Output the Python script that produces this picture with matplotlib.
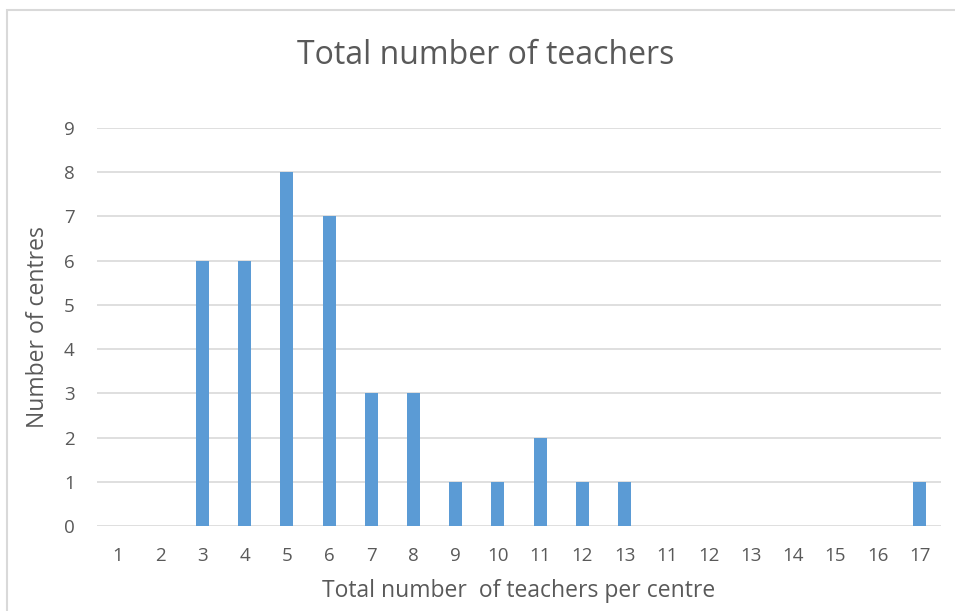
import matplotlib.pyplot as plt
from matplotlib.patches import Rectangle

categories = ['1', '2', '3', '4', '5', '6', '7', '8', '9', '10', '11', '12', '13',
              '11', '12', '13', '14', '15', '16', '17']
centres = [0, 0, 6, 6, 8, 7, 3, 3, 1, 1, 2, 1, 1, 0, 0, 0, 0, 0, 0, 1]

plt.rcParams['font.family'] = ['Open Sans', 'DejaVu Sans']
txt = '#595959'
grid = '#D9D9D9'

fig = plt.figure(figsize=(9.55, 6.11), dpi=100)
ax = fig.add_axes([97 / 955, 85 / 611, 844 / 955, 398 / 611])

pos = list(range(len(categories)))
ax.bar(pos, centres, width=0.31, color='#5B9BD5', zorder=3)

ax.set_xlim(-0.5, len(categories) - 0.5)
ax.set_ylim(0, 9)
ax.set_yticks(range(10))
ax.set_xticks(pos, categories)
ax.yaxis.grid(True, color=grid, lw=1.2, zorder=0)
ax.tick_params(axis='x', length=0, labelsize=13.5, colors=txt, pad=15)
ax.tick_params(axis='y', length=0, labelsize=13.5, colors=txt, pad=16)
for s in ax.spines.values():
    s.set_visible(False)

fig.text(486 / 955, 1 - 55 / 611, 'Total number of teachers', fontsize=23, color=txt,
         ha='center', va='center')
ax.set_xlabel('Total number  of teachers per centre', fontsize=16.5, color=txt, labelpad=10)
ax.set_ylabel('Number of centres', fontsize=16.5, color=txt)
ax.yaxis.set_label_coords(-47 / 844, 0.5)

# chart frame
fig.patches.append(Rectangle((7 / 955, -0.1), 1.2, (601 / 611) + 0.1, transform=fig.transFigure,
                             fill=False, edgecolor=grid, lw=1.5))

fig.savefig('out.png', dpi=100)
